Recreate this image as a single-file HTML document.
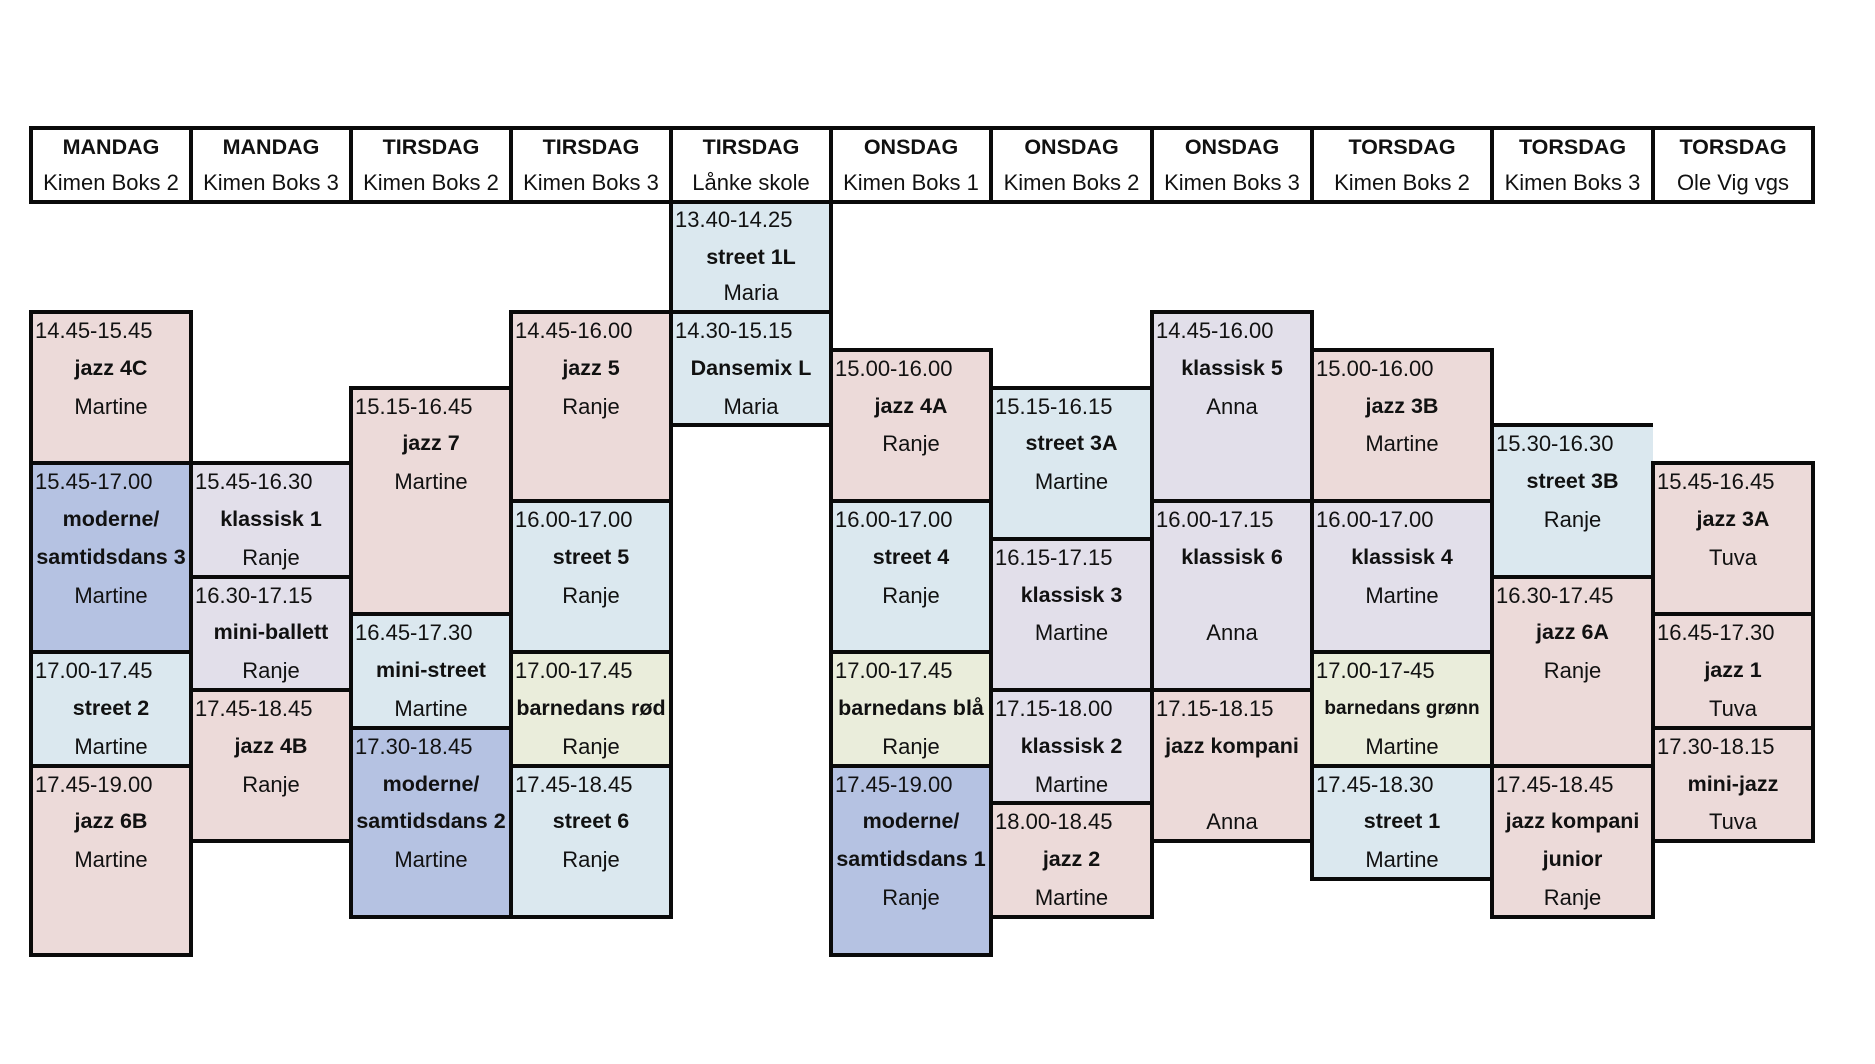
<!DOCTYPE html>
<html>
<head>
<meta charset="utf-8">
<style>
  html,body{margin:0;padding:0;background:#fff;}
  body{width:1875px;height:1064px;position:relative;overflow:hidden;
       font-family:"Liberation Sans",Arial,sans-serif;color:#111;}
  .b{position:absolute;border:4px solid #0a0a0a;box-sizing:border-box;}
  .t{position:absolute;top:-2px;left:-2px;right:-2px;}
  .t div{height:37.8px;line-height:37.8px;text-align:center;white-space:nowrap;font-size:22px;}
  .t div.tm{text-align:left;padding-left:4px;}
  .t div.bd{font-weight:bold;font-size:21.5px;}
  .t div.sm{font-weight:bold;font-size:19px;}
  .h{position:absolute;top:126px;height:78px;border:4px solid #0a0a0a;box-sizing:border-box;background:#fff;}
  .h div{height:35px;line-height:35px;text-align:center;white-space:nowrap;font-size:22px;}
  .h div.d{font-weight:bold;font-size:21.5px;}
  .pk{background:#ecdad9;}
  .lb{background:#dbe8ef;}
  .lv{background:#e2dfea;}
  .bl{background:#b5c2e2;}
  .gr{background:#eaeddb;}
</style>
</head>
<body>

<!-- Header -->
<div class="h" style="left:29px;width:164px;"><div class="d">MANDAG</div><div>Kimen Boks 2</div></div>
<div class="h" style="left:189px;width:164px;"><div class="d">MANDAG</div><div>Kimen Boks 3</div></div>
<div class="h" style="left:349px;width:164px;"><div class="d">TIRSDAG</div><div>Kimen Boks 2</div></div>
<div class="h" style="left:509px;width:164px;"><div class="d">TIRSDAG</div><div>Kimen Boks 3</div></div>
<div class="h" style="left:669px;width:164px;"><div class="d">TIRSDAG</div><div>Lånke skole</div></div>
<div class="h" style="left:829px;width:164px;"><div class="d">ONSDAG</div><div>Kimen Boks 1</div></div>
<div class="h" style="left:989px;width:165px;"><div class="d">ONSDAG</div><div>Kimen Boks 2</div></div>
<div class="h" style="left:1150px;width:164px;"><div class="d">ONSDAG</div><div>Kimen Boks 3</div></div>
<div class="h" style="left:1310px;width:184px;"><div class="d">TORSDAG</div><div>Kimen Boks 2</div></div>
<div class="h" style="left:1490px;width:165px;"><div class="d">TORSDAG</div><div>Kimen Boks 3</div></div>
<div class="h" style="left:1651px;width:164px;"><div class="d">TORSDAG</div><div>Ole Vig vgs</div></div>

<!-- Col 0: MANDAG Kimen Boks 2 -->
<div class="b pk" style="left:29px;top:310px;width:164px;height:155.2px;"><div class="t"><div class="tm">14.45-15.45</div><div class="bd">jazz 4C</div><div>Martine</div></div></div>
<div class="b bl" style="left:29px;top:461.2px;width:164px;height:193px;"><div class="t"><div class="tm">15.45-17.00</div><div class="bd">moderne/</div><div class="bd">samtidsdans 3</div><div>Martine</div></div></div>
<div class="b lb" style="left:29px;top:650.2px;width:164px;height:117.4px;"><div class="t"><div class="tm">17.00-17.45</div><div class="bd">street 2</div><div>Martine</div></div></div>
<div class="b pk" style="left:29px;top:763.6px;width:164px;height:193px;"><div class="t"><div class="tm">17.45-19.00</div><div class="bd">jazz 6B</div><div>Martine</div></div></div>

<!-- Col 1: MANDAG Kimen Boks 3 -->
<div class="b lv" style="left:189px;top:461.2px;width:164px;height:117.4px;"><div class="t"><div class="tm">15.45-16.30</div><div class="bd">klassisk 1</div><div>Ranje</div></div></div>
<div class="b lv" style="left:189px;top:574.6px;width:164px;height:117.4px;"><div class="t"><div class="tm">16.30-17.15</div><div class="bd">mini-ballett</div><div>Ranje</div></div></div>
<div class="b pk" style="left:189px;top:688px;width:164px;height:155.2px;"><div class="t"><div class="tm">17.45-18.45</div><div class="bd">jazz 4B</div><div>Ranje</div></div></div>

<!-- Col 2: TIRSDAG Kimen Boks 2 -->
<div class="b pk" style="left:349px;top:385.6px;width:164px;height:230.8px;"><div class="t"><div class="tm">15.15-16.45</div><div class="bd">jazz 7</div><div>Martine</div></div></div>
<div class="b lb" style="left:349px;top:612.4px;width:164px;height:117.4px;"><div class="t"><div class="tm">16.45-17.30</div><div class="bd">mini-street</div><div>Martine</div></div></div>
<div class="b bl" style="left:349px;top:725.8px;width:164px;height:193px;"><div class="t"><div class="tm">17.30-18.45</div><div class="bd">moderne/</div><div class="bd">samtidsdans 2</div><div>Martine</div></div></div>

<!-- Col 3: TIRSDAG Kimen Boks 3 -->
<div class="b pk" style="left:509px;top:310px;width:164px;height:193px;"><div class="t"><div class="tm">14.45-16.00</div><div class="bd">jazz 5</div><div>Ranje</div></div></div>
<div class="b lb" style="left:509px;top:499px;width:164px;height:155.2px;"><div class="t"><div class="tm">16.00-17.00</div><div class="bd">street 5</div><div>Ranje</div></div></div>
<div class="b gr" style="left:509px;top:650.2px;width:164px;height:117.4px;"><div class="t"><div class="tm">17.00-17.45</div><div class="bd">barnedans rød</div><div>Ranje</div></div></div>
<div class="b lb" style="left:509px;top:763.6px;width:164px;height:155.2px;"><div class="t"><div class="tm">17.45-18.45</div><div class="bd">street 6</div><div>Ranje</div></div></div>

<!-- Col 4: TIRSDAG Lånke skole -->
<div class="b lb" style="left:669px;top:200px;width:164px;height:114px;"><div class="t"><div class="tm" style="height:36.67px;line-height:36.67px;">13.40-14.25</div><div class="bd" style="height:36.67px;line-height:36.67px;">street 1L</div><div style="height:36.67px;line-height:36.67px;">Maria</div></div></div>
<div class="b lb" style="left:669px;top:310px;width:164px;height:117.4px;"><div class="t"><div class="tm">14.30-15.15</div><div class="bd">Dansemix L</div><div>Maria</div></div></div>

<!-- Col 5: ONSDAG Kimen Boks 1 -->
<div class="b pk" style="left:829px;top:347.8px;width:164px;height:155.2px;"><div class="t"><div class="tm">15.00-16.00</div><div class="bd">jazz 4A</div><div>Ranje</div></div></div>
<div class="b lb" style="left:829px;top:499px;width:164px;height:155.2px;"><div class="t"><div class="tm">16.00-17.00</div><div class="bd">street 4</div><div>Ranje</div></div></div>
<div class="b gr" style="left:829px;top:650.2px;width:164px;height:117.4px;"><div class="t"><div class="tm">17.00-17.45</div><div class="bd">barnedans blå</div><div>Ranje</div></div></div>
<div class="b bl" style="left:829px;top:763.6px;width:164px;height:193px;"><div class="t"><div class="tm">17.45-19.00</div><div class="bd">moderne/</div><div class="bd">samtidsdans 1</div><div>Ranje</div></div></div>

<!-- Col 6: ONSDAG Kimen Boks 2 -->
<div class="b lb" style="left:989px;top:385.6px;width:165px;height:155.2px;"><div class="t"><div class="tm">15.15-16.15</div><div class="bd">street 3A</div><div>Martine</div></div></div>
<div class="b lv" style="left:989px;top:536.8px;width:165px;height:155.2px;"><div class="t"><div class="tm">16.15-17.15</div><div class="bd">klassisk 3</div><div>Martine</div></div></div>
<div class="b lv" style="left:989px;top:688px;width:165px;height:117.4px;"><div class="t"><div class="tm">17.15-18.00</div><div class="bd">klassisk 2</div><div>Martine</div></div></div>
<div class="b pk" style="left:989px;top:801.4px;width:165px;height:117.4px;"><div class="t"><div class="tm">18.00-18.45</div><div class="bd">jazz 2</div><div>Martine</div></div></div>

<!-- Col 7: ONSDAG Kimen Boks 3 -->
<div class="b lv" style="left:1150px;top:310px;width:164px;height:193px;"><div class="t"><div class="tm">14.45-16.00</div><div class="bd">klassisk 5</div><div>Anna</div></div></div>
<div class="b lv" style="left:1150px;top:499px;width:164px;height:193px;"><div class="t"><div class="tm">16.00-17.15</div><div class="bd">klassisk 6</div><div></div><div>Anna</div></div></div>
<div class="b pk" style="left:1150px;top:688px;width:164px;height:155.2px;"><div class="t"><div class="tm">17.15-18.15</div><div class="bd">jazz kompani</div><div></div><div>Anna</div></div></div>

<!-- Col 8: TORSDAG Kimen Boks 2 -->
<div class="b pk" style="left:1310px;top:347.8px;width:184px;height:155.2px;"><div class="t"><div class="tm">15.00-16.00</div><div class="bd">jazz 3B</div><div>Martine</div></div></div>
<div class="b lv" style="left:1310px;top:499px;width:184px;height:155.2px;"><div class="t"><div class="tm">16.00-17.00</div><div class="bd">klassisk 4</div><div>Martine</div></div></div>
<div class="b gr" style="left:1310px;top:650.2px;width:184px;height:117.4px;"><div class="t"><div class="tm">17.00-17-45</div><div class="sm">barnedans grønn</div><div>Martine</div></div></div>
<div class="b lb" style="left:1310px;top:763.6px;width:184px;height:117.4px;"><div class="t"><div class="tm">17.45-18.30</div><div class="bd">street 1</div><div>Martine</div></div></div>

<!-- Col 9: TORSDAG Kimen Boks 3 -->
<div class="b lb" style="left:1490px;top:423.4px;width:163px;height:155.2px;border-right:none;"><div class="t" style="right:0;"><div class="tm">15.30-16.30</div><div class="bd">street 3B</div><div>Ranje</div></div></div>
<div class="b pk" style="left:1490px;top:574.6px;width:165px;height:193px;"><div class="t"><div class="tm">16.30-17.45</div><div class="bd">jazz 6A</div><div>Ranje</div></div></div>
<div class="b pk" style="left:1490px;top:763.6px;width:165px;height:155.2px;"><div class="t"><div class="tm">17.45-18.45</div><div class="bd">jazz kompani</div><div class="bd">junior</div><div>Ranje</div></div></div>

<!-- Col 10: TORSDAG Ole Vig vgs -->
<div class="b pk" style="left:1651px;top:461.2px;width:164px;height:155.2px;"><div class="t"><div class="tm">15.45-16.45</div><div class="bd">jazz 3A</div><div>Tuva</div></div></div>
<div class="b pk" style="left:1651px;top:612.4px;width:164px;height:117.4px;"><div class="t"><div class="tm">16.45-17.30</div><div class="bd">jazz 1</div><div>Tuva</div></div></div>
<div class="b pk" style="left:1651px;top:725.8px;width:164px;height:117.4px;"><div class="t"><div class="tm">17.30-18.15</div><div class="bd">mini-jazz</div><div>Tuva</div></div></div>

</body>
</html>
